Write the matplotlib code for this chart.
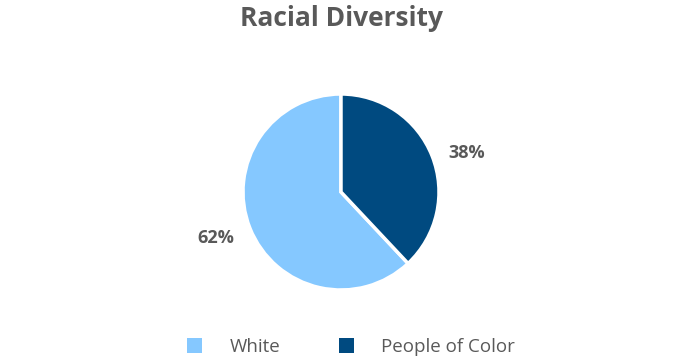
import matplotlib
matplotlib.use("Agg")
import matplotlib.pyplot as plt
from matplotlib.patches import Patch
from matplotlib.transforms import offset_copy

categories = ["White", "People of Color"]
values = [62, 38]
colors = ["#85C8FF", "#004A80"]
title = "Racial Diversity"

plt.rcParams['font.family'] = ['Open Sans', 'DejaVu Sans']
TXT = "#595959"

fig = plt.figure(figsize=(6.82, 3.60), dpi=100)
r_px = 98
half = 1.4 * r_px
cx, cy = 341, 360 - 192
ax = fig.add_axes([(cx - half) / 682, (cy - half) / 360, 2 * half / 682, 2 * half / 360])
wedges, _, autotexts = ax.pie(values, colors=colors, startangle=90, counterclock=True,
                              autopct=lambda p: f"{p:.0f}%", pctdistance=1.36,
                              wedgeprops=dict(edgecolor="white", linewidth=2.5),
                              textprops=dict(color=TXT, fontsize=13, fontweight="bold"))
ax.set_xlim(-1.4, 1.4)
ax.set_ylim(-1.4, 1.4)
ax.set_aspect("equal")
ax.axis("off")

# small label nudges (in points) to match the reference placement
nudges = [(-1, 2), (1, -7)]
for t, (dx, dy) in zip(autotexts, nudges):
    t.set_transform(offset_copy(ax.transData, fig=fig, x=dx, y=dy, units="points"))

fig.text(0.5, 1 - 18 / 360, title, ha="center", va="center", fontsize=19,
         fontweight="bold", color=TXT)

handles = [Patch(facecolor=c, edgecolor="none") for c in colors]
fig.legend(handles, categories, loc="center", bbox_to_anchor=(351 / 682, 1 - 347 / 360),
           ncol=2, frameon=False, fontsize=13.5, labelcolor=TXT,
           handlelength=0.8, handleheight=0.8, handletextpad=1.45, columnspacing=3.1)

fig.savefig("out.png", dpi=100, facecolor="white")
